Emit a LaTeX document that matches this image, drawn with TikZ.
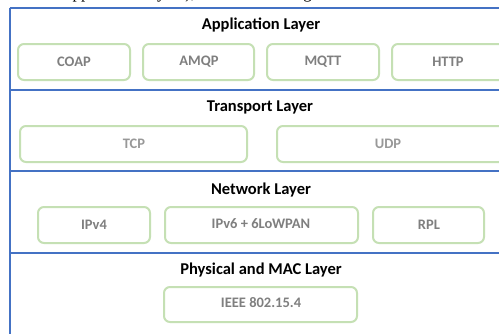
\documentclass[tikz,border=0pt]{standalone}
\usepackage{fontspec}
\setmainfont{Carlito}
\newfontfamily\bodyserif{Liberation Serif}
\definecolor{layerblue}{HTML}{4472C4}
\definecolor{protogreen}{HTML}{C5E0B4}
\definecolor{protogray}{HTML}{7F7F7F}
\tikzset{
  layertitle/.style={font=\bfseries\fontsize{16.5}{19}\selectfont, text=black, anchor=center},
  protobox/.style={draw=protogreen, line width=2pt, rounded corners=6pt, fill=white},
  protolabel/.style={font=\bfseries\fontsize{14.5}{17}\selectfont, text=protogray, anchor=center},
  divider/.style={draw=layerblue, line width=2pt}
}
\begin{document}
\begin{tikzpicture}[x=1pt,y=-1pt]
  \useasboundingbox (0,0) rectangle (499,333);
  \clip (0,0) rectangle (499,333);
  \fill[white] (0,0) rectangle (499,333);
  % line of running text above the figure
  \node[font=\bodyserif\fontsize{17}{19}\selectfont, anchor=base west, inner sep=0pt] (caption) at (36,-1.5) {and application layers), illustrated in Figure};
  % layer frame
  \coordinate (tl) at (9.5,8);
  \coordinate (bl) at (9.5,340);
  \draw[divider] (tl) -- (bl);
  \coordinate (d0l) at (9.5,8);    \coordinate (d0r) at (505,8);
  \coordinate (d1l) at (9.5,89.5); \coordinate (d1r) at (505,89.5);
  \coordinate (d2l) at (9.5,171);  \coordinate (d2r) at (505,171);
  \coordinate (d3l) at (9.5,252.5);\coordinate (d3r) at (505,252.5);
  \draw[divider] (d0l) -- (d0r);
  \draw[divider] (d1l) -- (d1r);
  \draw[divider] (d2l) -- (d2r);
  \draw[divider] (d3l) -- (d3r);
  % application layer
  \node[layertitle] (app) at (261,25) {Application Layer};
  \draw[protobox] (18,44) rectangle (130,80);   \node[protolabel] (coap) at (74,62) {COAP};
  \draw[protobox] (143,44) rectangle (254,80);  \node[protolabel] (amqp) at (199,62) {AMQP};
  \draw[protobox] (267,44) rectangle (379,80);  \node[protolabel] (mqtt) at (323,62) {MQTT};
  \draw[protobox] (392,44) rectangle (505,80);  \node[protolabel] (http) at (448,62) {HTTP};
  % transport layer
  \node[layertitle] (trans) at (260,107) {Transport Layer};
  \draw[protobox] (20,126) rectangle (247,162); \node[protolabel, text=protogray!80] (tcp) at (134,144) {TCP};
  \draw[protobox] (277,126) rectangle (505,162);\node[protolabel, text=protogray!80] (udp) at (388,144) {UDP};
  % network layer
  \node[layertitle] (net) at (261,190) {Network Layer};
  \draw[protobox] (38,207) rectangle (150,243); \node[protolabel] (ipv4) at (94,225) {IPv4};
  \draw[protobox] (165,207) rectangle (358,243);\node[protolabel] (ipv6) at (261,224) {IPv6 + 6LoWPAN};
  \draw[protobox] (373,207) rectangle (484,243);\node[protolabel] (rpl) at (429,225) {RPL};
  % physical and MAC layer
  \node[layertitle] (phy) at (261,270) {Physical and MAC Layer};
  \draw[protobox] (164,287) rectangle (357,322);\node[protolabel] (ieee) at (261,303) {IEEE 802.15.4};
\end{tikzpicture}
\end{document}
